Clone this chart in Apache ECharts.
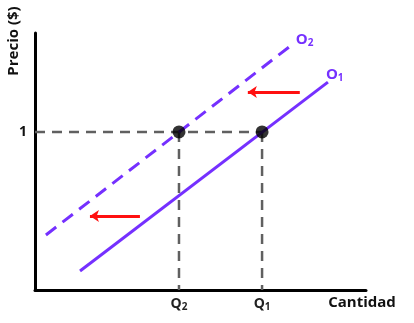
<!DOCTYPE html>
<html>
<head>
<meta charset="utf-8">
<script src="https://cdn.jsdelivr.net/npm/echarts@6/dist/echarts.min.js"></script>
<style>
html,body{margin:0;padding:0;background:#fff;}
#c{width:414px;height:323px;}
</style>
</head>
<body>
<div id="c"></div>
<script>
// ---- data ----
const xName = 'Cantidad';
const yName = 'Precio ($)';
const priceLevel = 6.15;
const priceLabel = '1';
const qValues = [4.35, 6.86];
const qLabels = ['Q{s|2}', 'Q{s|1}'];
const o1Points = [[1.36, 0.74], [8.85, 8.09]];
const o2Points = [[0.33, 2.14], [7.79, 9.57]];
const o1Label = 'O{s|1}';
const o2Label = 'O{s|2}';
const arrowUpper = [[8.0, 7.7], [6.43, 7.7]];
const arrowLower = [[3.17, 2.88], [1.66, 2.88]];

const purple = '#7530ff';
const guide = '#606060';
const fontFam = '"Open Sans", "Noto Sans", sans-serif';

const chart = echarts.init(document.getElementById('c'), null, {renderer: 'canvas'});

function labelMap(v, vals, labs) {
  for (let i = 0; i < vals.length; i++) if (Math.abs(v - vals[i]) < 1e-6) return labs[i];
  return '';
}

const subRich = (c) => ({s: {fontSize: 10, fontWeight: 'bold', color: c, fontFamily: fontFam, padding: [6, 0, 0, 0]}});

const option = {
  animation: false,
  grid: {left: 35, right: 48, top: 33, bottom: 33},
  xAxis: {
    type: 'value', min: 0, max: 10,
    splitLine: {show: false},
    axisTick: {show: false},
    axisLine: {show: true, lineStyle: {color: '#000', width: 3}},
    axisLabel: {
      customValues: qValues,
      margin: 6,
      formatter: v => labelMap(v, qValues, qLabels),
      color: '#222', fontWeight: 'bold', fontSize: 14, fontFamily: fontFam,
      rich: subRich('#222')
    },
    name: xName,
    nameLocation: 'end',
    nameGap: -4,
    nameTextStyle: {color: '#111', fontWeight: 'bold', fontSize: 15, fontFamily: fontFam,
      align: 'center', verticalAlign: 'top', padding: [5, 0, 0, 0]}
  },
  yAxis: {
    type: 'value', min: 0, max: 10,
    splitLine: {show: false},
    axisTick: {show: false},
    axisLine: {show: true, lineStyle: {color: '#000', width: 3}},
    axisLabel: {
      customValues: [priceLevel],
      margin: 8,
      formatter: () => priceLabel,
      color: '#111', fontWeight: 'bold', fontSize: 14, fontFamily: fontFam
    },
    name: yName,
    nameLocation: 'end',
    nameRotate: 90,
    nameGap: -8,
    nameTextStyle: {color: '#111', fontWeight: 'bold', fontSize: 15, fontFamily: fontFam,
      align: 'center', verticalAlign: 'bottom', padding: [0, 0, 14, 0]}
  },
  series: [
    {
      type: 'line', name: 'guideH', symbol: 'none',
      data: [[0, priceLevel], [qValues[1], priceLevel]],
      lineStyle: {color: guide, width: 2.5, type: [10, 7]}, z: 2
    },
    {
      type: 'line', name: 'guideV2', symbol: 'none',
      data: [[qValues[0], priceLevel], [qValues[0], 0]],
      lineStyle: {color: guide, width: 2.5, type: [10, 7]}, z: 2
    },
    {
      type: 'line', name: 'guideV1', symbol: 'none',
      data: [[qValues[1], priceLevel], [qValues[1], 0]],
      lineStyle: {color: guide, width: 2.5, type: [10, 7]}, z: 2
    },
    {
      type: 'line', name: 'O1', symbol: 'none',
      data: o1Points,
      endLabel: {show: true, formatter: o1Label, offset: [-4, -7], distance: 2,
        color: purple, fontWeight: 'bold', fontSize: 15, fontFamily: fontFam, rich: subRich(purple)},
      lineStyle: {color: purple, width: 3}, z: 3
    },
    {
      type: 'line', name: 'O2', symbol: 'none',
      data: o2Points,
      endLabel: {show: true, formatter: o2Label, offset: [0, -4], distance: 3,
        color: purple, fontWeight: 'bold', fontSize: 15, fontFamily: fontFam, rich: subRich(purple)},
      lineStyle: {color: purple, width: 3, type: [13, 8]}, z: 3
    },
    {
      type: 'lines', coordinateSystem: 'cartesian2d',
      symbol: ['none', 'arrow'], symbolSize: 9,
      lineStyle: {color: '#ff1010', width: 3, opacity: 1},
      data: [{coords: arrowUpper}, {coords: arrowLower}], z: 4
    },
    {
      type: 'scatter', symbolSize: 13,
      itemStyle: {color: '#000'},
      data: [[qValues[0], priceLevel], [qValues[1], priceLevel]], z: 5
    }
  ]
};
chart.setOption(option);
</script>
</body>
</html>
